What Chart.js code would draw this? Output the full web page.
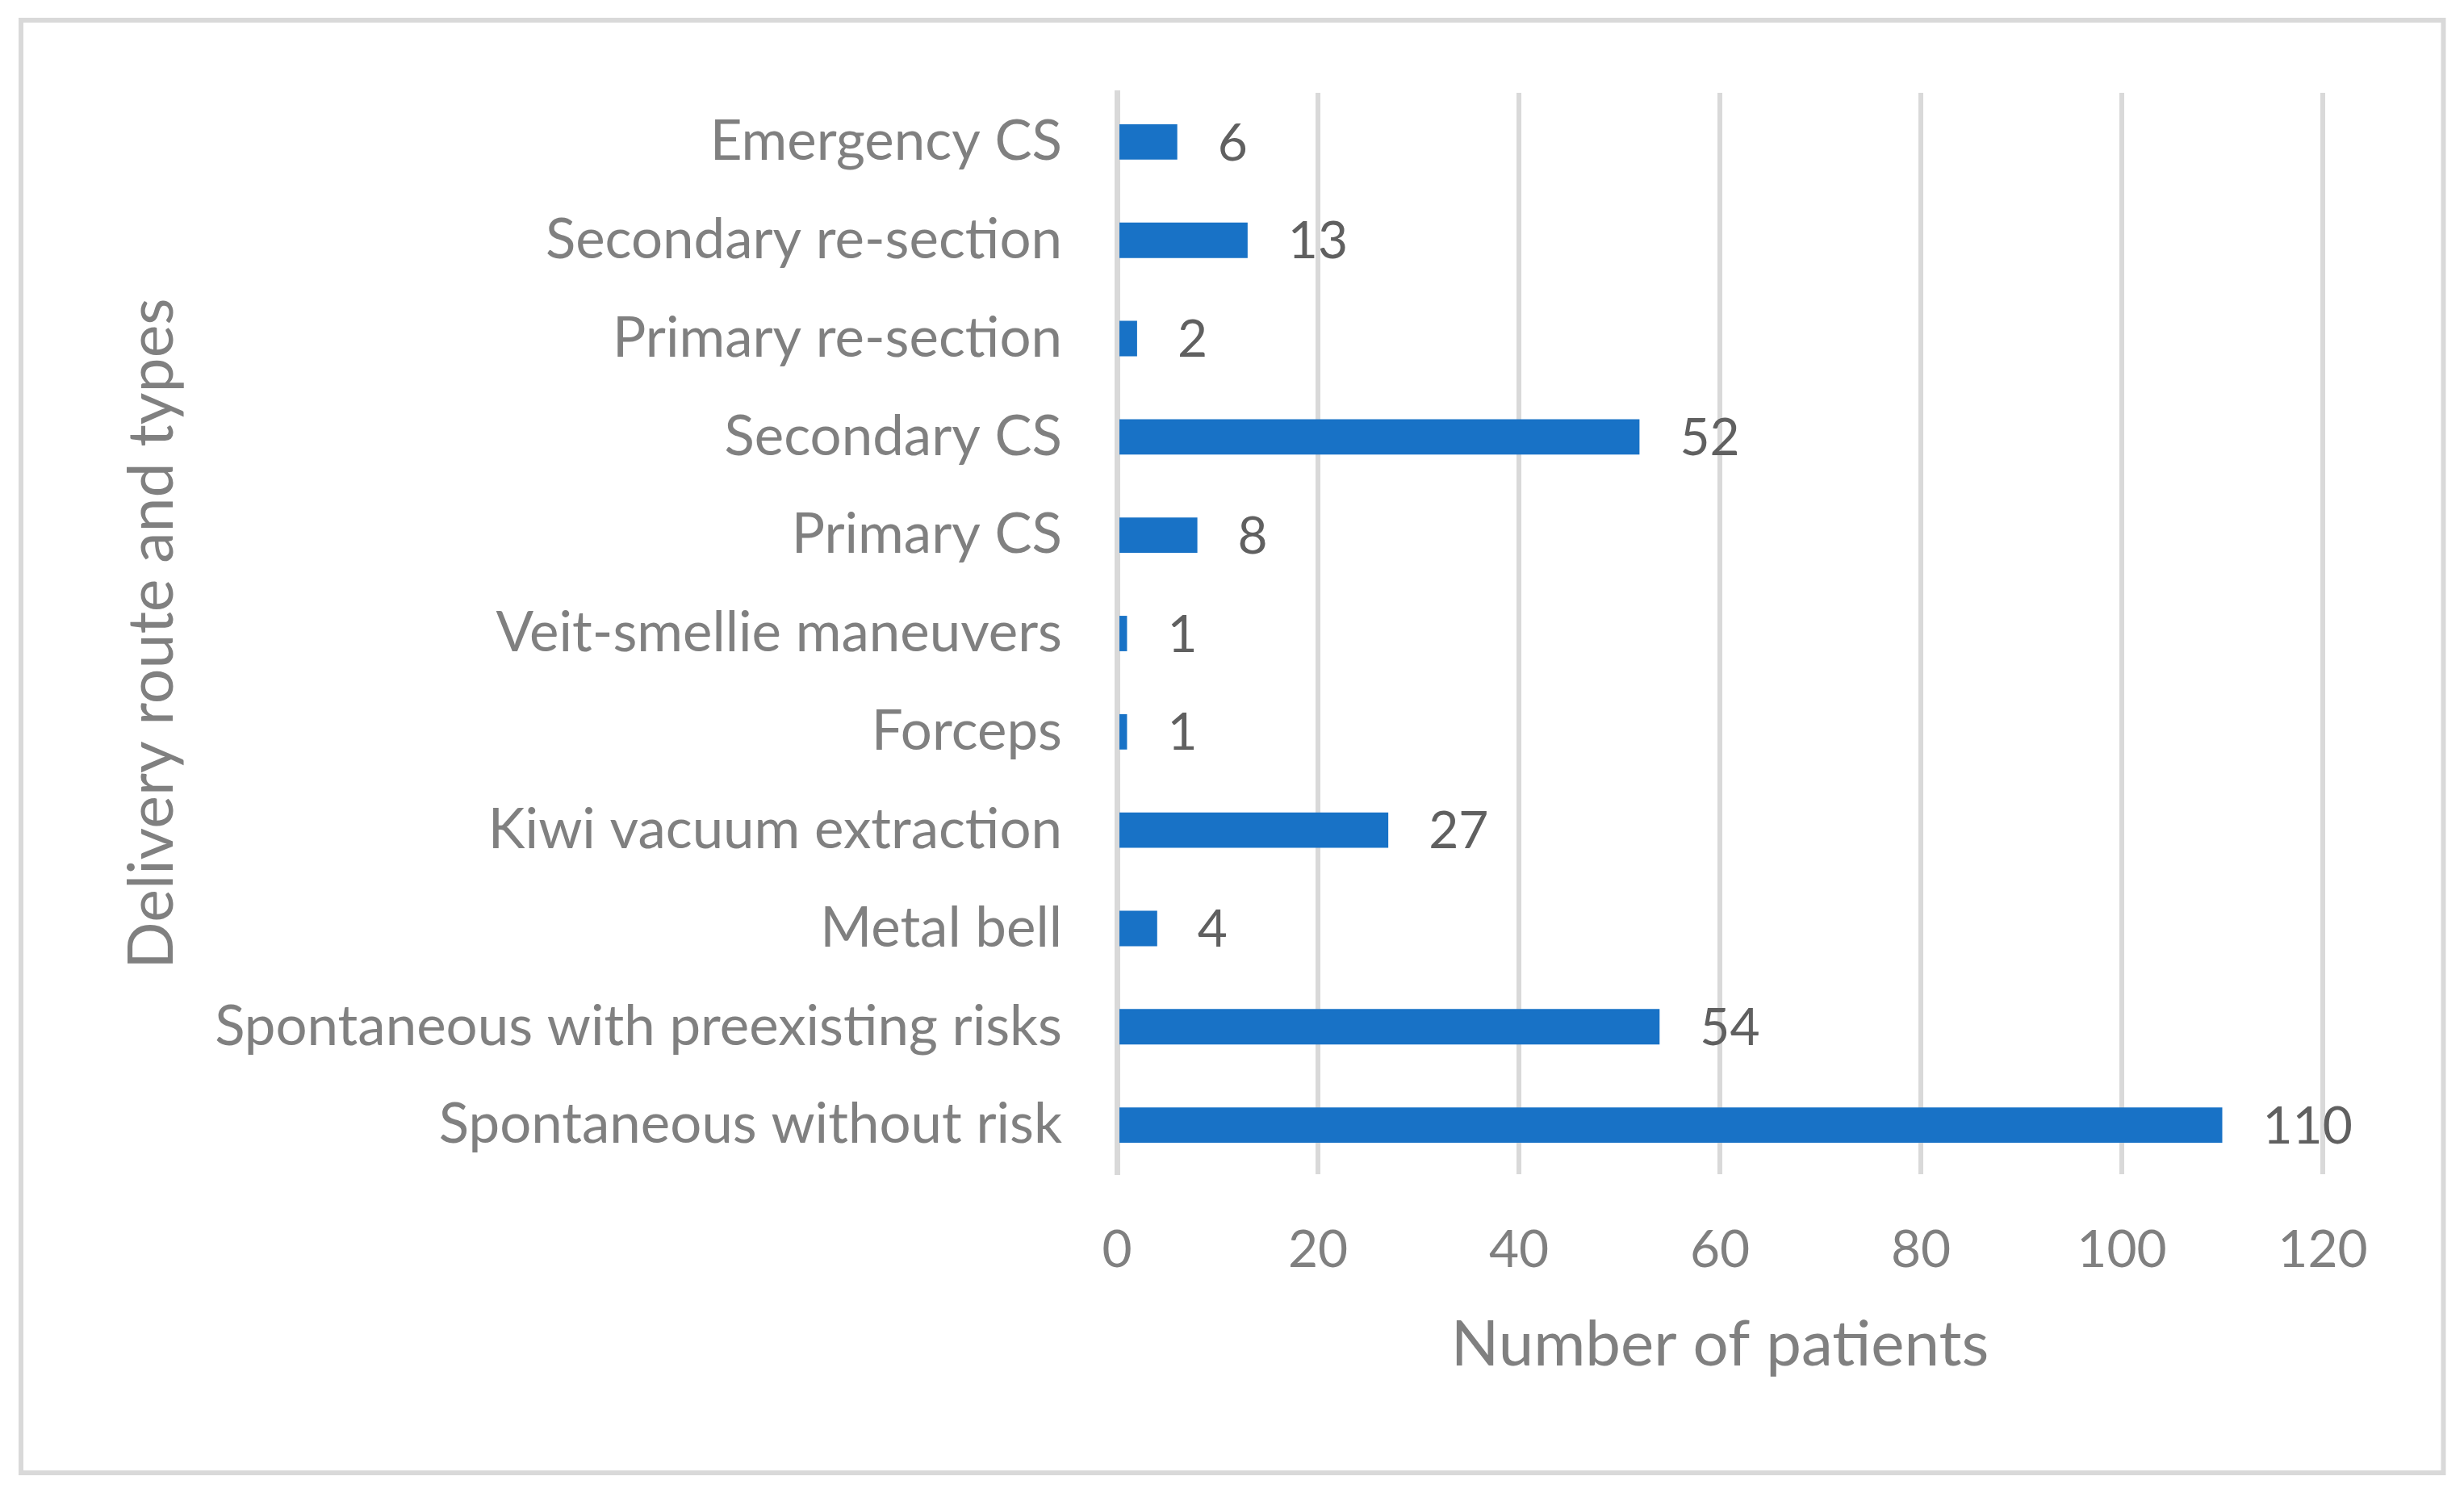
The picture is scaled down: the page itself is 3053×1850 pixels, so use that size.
<!DOCTYPE html>
<html>
<head>
<meta charset="utf-8">
<script src="https://cdn.jsdelivr.net/npm/chart.js@4/dist/chart.umd.min.js"></script>
<style>
  html, body { margin: 0; padding: 0; background: #fff; }
  canvas { display: block; }
</style>
</head>
<body>
<canvas id="deliveryChart" width="3053" height="1850"></canvas>
<script>
// data, top to bottom
var categories = [
  'Emergency CS',
  'Secondary re-section',
  'Primary re-section',
  'Secondary CS',
  'Primary CS',
  'Veit-smellie maneuvers',
  'Forceps',
  'Kiwi vacuum extraction',
  'Metal bell',
  'Spontaneous with preexisting risks',
  'Spontaneous without risk'
];
var patients = [6, 13, 2, 52, 8, 1, 1, 27, 4, 54, 110];
var xTicks = [0, 20, 40, 60, 80, 100, 120];

var FONT = 'Lato, "Open Sans", sans-serif';

// white page + light grey frame
var framePlugin = {
  id: 'frame',
  beforeDraw: function (chart) {
    var ctx = chart.ctx;
    ctx.save();
    ctx.fillStyle = '#ffffff';
    ctx.fillRect(0, 0, chart.width, chart.height);
    ctx.strokeStyle = '#d9d9d9';
    ctx.lineWidth = 6;
    ctx.strokeRect(26, 25, 3001.5, 1800);
    ctx.restore();
  }
};

// value labels at the end of each bar
var valueLabels = {
  id: 'valueLabels',
  afterDatasetsDraw: function (chart) {
    var ctx = chart.ctx;
    ctx.save();
    ctx.font = '64px ' + FONT;
    ctx.fillStyle = '#606060';
    ctx.textAlign = 'left';
    ctx.textBaseline = 'middle';
    chart.getDatasetMeta(0).data.forEach(function (bar, i) {
      ctx.fillText(String(patients[i]), bar.x + 50, bar.y + 2);
    });
    ctx.restore();
  }
};

var ctx = document.getElementById('deliveryChart').getContext('2d');
var chart = new Chart(ctx, {
  type: 'bar',
  data: {
    labels: categories,
    datasets: [{
      data: patients,
      backgroundColor: '#1872c6',
      borderWidth: 0,
      barPercentage: 0.36,
      categoryPercentage: 1
    }]
  },
  options: {
    indexAxis: 'y',
    responsive: false,
    animation: false,
    devicePixelRatio: 1,
    layout: { padding: { left: 30, top: 115, right: 175, bottom: 136 } },
    plugins: {
      legend: { display: false },
      tooltip: { enabled: false }
    },
    scales: {
      x: {
        min: 0,
        max: 120,
        afterBuildTicks: function (scale) {
          scale.ticks = xTicks.map(function (v) { return { value: v }; });
        },
        afterFit: function (scale) { scale.height = 259; },
        grid: { color: '#d9d9d9', lineWidth: 6, drawTicks: false },
        border: { display: false },
        ticks: {
          color: '#808080',
          padding: 56,
          font: { family: FONT, size: 64 }
        },
        title: {
          display: true,
          text: 'Number of patients',
          color: '#808080',
          font: { family: FONT, size: 78 },
          padding: { top: 0, bottom: 0 }
        }
      },
      y: {
        afterFit: function (scale) { scale.width = 1354; },
        grid: { display: false, drawTicks: false },
        border: { display: true, color: '#d9d9d9', width: 7 },
        ticks: {
          color: '#808080',
          padding: 68,
          font: { family: FONT, size: 69 }
        },
        title: {
          display: true,
          text: 'Delivery route and types',
          color: '#808080',
          font: { family: FONT, size: 77 },
          padding: { top: 113, bottom: 0 }
        }
      }
    }
  },
  plugins: [framePlugin, valueLabels]
});
</script>
</body>
</html>
